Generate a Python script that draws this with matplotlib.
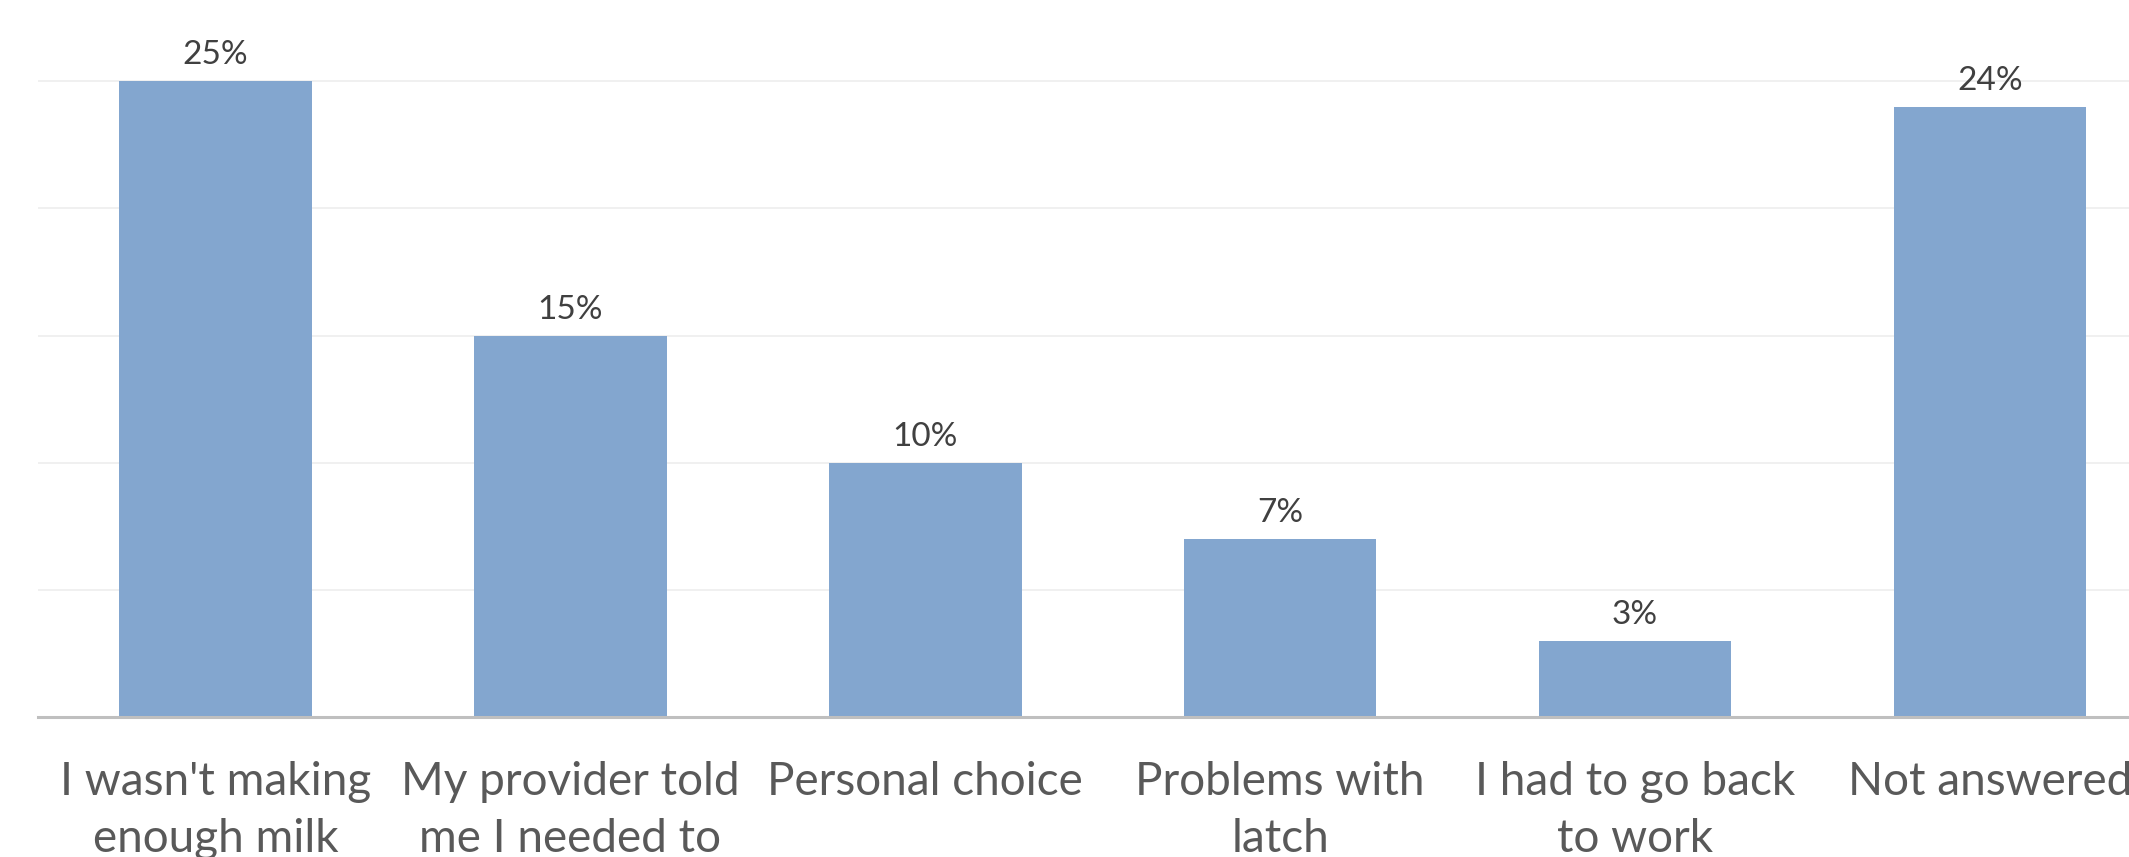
import matplotlib
matplotlib.use("Agg")
import matplotlib.pyplot as plt

categories = ["I wasn't making\nenough milk", "My provider told\nme I needed to", "Personal choice",
              "Problems with\nlatch", "I had to go back\nto work", "Not answered"]
values = [25, 15, 10, 7, 3, 24]

plt.rcParams['font.family'] = ['Lato', 'DejaVu Sans']

fig = plt.figure(figsize=(21.29, 8.57), dpi=100)
ax = fig.add_axes([38/2129, (857-717)/857, 1 - 38/2129, 717/857])

x = list(range(len(categories)))
ax.bar(x, values, width=0.543, color='#83A6CF', zorder=2)

ax.set_xlim(-0.5, 5.392)
ax.set_ylim(0, 28.2)
ax.set_yticks([0, 5, 10, 15, 20, 25])
ax.yaxis.grid(True, color='#EFEFEF', linewidth=1.3, zorder=0)
ax.set_axisbelow(True)
ax.tick_params(axis='y', left=False, labelleft=False)
for s in ['top', 'right', 'left']:
    ax.spines[s].set_visible(False)
ax.spines['bottom'].set_color('#BFBFBF')
ax.spines['bottom'].set_linewidth(2.2)
ax.spines['bottom'].set_zorder(3)

ax.set_xticks(x)
ax.set_xticklabels(categories, fontsize=33, color='#595959', linespacing=1.45)
ax.tick_params(axis='x', bottom=False, pad=28)

for xi, v in zip(x, values):
    ax.annotate(f"{v}%", (xi, v), xytext=(0, 8), textcoords='offset points',
                ha='center', va='bottom', fontsize=24, color='#404040')

fig.savefig("out.png", dpi=100)
